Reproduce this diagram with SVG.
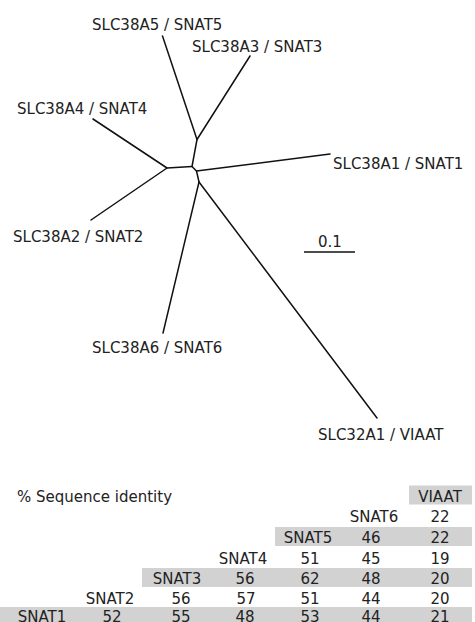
<svg xmlns="http://www.w3.org/2000/svg" width="475" height="622" viewBox="0 0 475 622">
<style>
  text { font-family: "DejaVu Sans", Verdana, sans-serif; font-size: 15px; fill: #222; }
  .c { text-anchor: middle; }
  .br { stroke: #111; stroke-width: 1.5; fill: none; stroke-linecap: round; stroke-linejoin: round; }
  .shade { fill: #d2d2d2; }
</style>
<rect width="475" height="622" fill="#ffffff"/>
<g id="connectors">
  <polyline class="br" points="162.5,36 197,139.5 250,56"/>
  <polyline class="br" points="197,139.5 192,166.5 196.5,171 199,182"/>
  <polyline class="br" points="93,119 167,168 91,220"/>
  <line class="br" x1="167" y1="168" x2="192" y2="166.5"/>
  <line class="br" x1="196.5" y1="171" x2="330" y2="154"/>
  <line class="br" x1="199" y1="182" x2="163" y2="333"/>
  <line class="br" x1="199" y1="182" x2="377" y2="418"/>
</g>
<g id="snat5"><text x="92" y="30">SLC38A5 / SNAT5</text></g>
<g id="snat3"><text x="192" y="51.5">SLC38A3 / SNAT3</text></g>
<g id="snat4"><text x="17" y="114">SLC38A4 / SNAT4</text></g>
<g id="snat1"><text x="333" y="169">SLC38A1 / SNAT1</text></g>
<g id="snat2"><text x="13" y="241.5">SLC38A2 / SNAT2</text></g>
<g id="snat6"><text x="92" y="353">SLC38A6 / SNAT6</text></g>
<g id="viaat"><text x="318" y="440">SLC32A1 / VIAAT</text></g>
<g id="scale">
  <text class="c" x="330" y="247">0.1</text>
  <line x1="304" y1="252" x2="355" y2="252" stroke="#111" stroke-width="1.3"/>
</g>
<g id="table">
  <rect class="shade" x="409" y="485.5" width="63" height="19"/>
  <rect class="shade" x="275" y="527" width="197" height="19"/>
  <rect class="shade" x="142" y="568" width="330" height="19"/>
  <rect class="shade" x="0" y="607" width="472" height="19"/>
  <text x="17" y="501.5">% Sequence identity</text>
  <text class="c" x="440" y="501.5">VIAAT</text>
  <text class="c" x="374" y="522">SNAT6</text>
  <text class="c" x="440" y="522">22</text>
  <text class="c" x="308" y="543">SNAT5</text>
  <text class="c" x="371" y="543">46</text>
  <text class="c" x="440" y="543">22</text>
  <text class="c" x="243" y="563.5">SNAT4</text>
  <text class="c" x="310" y="563.5">51</text>
  <text class="c" x="371" y="563.5">45</text>
  <text class="c" x="440" y="563.5">19</text>
  <text class="c" x="177" y="584">SNAT3</text>
  <text class="c" x="245" y="584">56</text>
  <text class="c" x="310" y="584">62</text>
  <text class="c" x="371" y="584">48</text>
  <text class="c" x="440" y="584">20</text>
  <text class="c" x="110" y="604">SNAT2</text>
  <text class="c" x="181" y="604">56</text>
  <text class="c" x="246" y="604">57</text>
  <text class="c" x="310" y="604">51</text>
  <text class="c" x="371" y="604">44</text>
  <text class="c" x="440" y="604">20</text>
  <text class="c" x="42" y="621.5">SNAT1</text>
  <text class="c" x="112" y="621.5">52</text>
  <text class="c" x="181" y="621.5">55</text>
  <text class="c" x="245" y="621.5">48</text>
  <text class="c" x="310" y="621.5">53</text>
  <text class="c" x="371" y="621.5">44</text>
  <text class="c" x="440" y="621.5">21</text>
</g>
</svg>
